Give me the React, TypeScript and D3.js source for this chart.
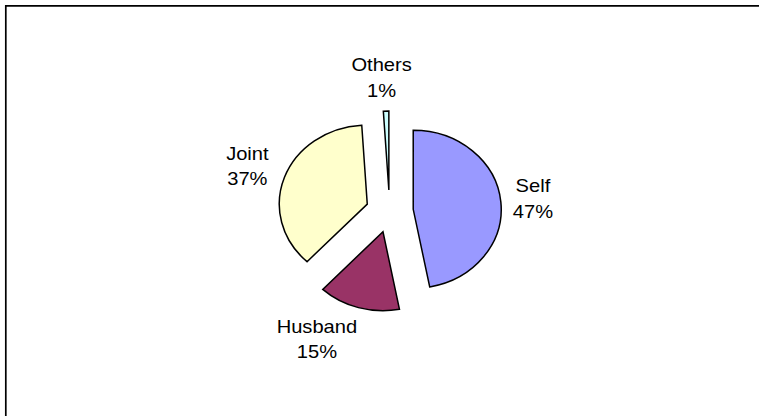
import React, { useLayoutEffect } from "react";
import * as d3 from "d3";

const categories = ["Self", "Husband", "Joint", "Others"];
const values = [47, 15, 37, 1];
const percentLabels = ["47%", "15%", "37%", "1%"];
const colors = ["#9999FF", "#993366", "#FFFFCC", "#CCFFFF"];

const W = 760;
const H = 417;
const CX = 389.6;
const CY = 211.3;
const RY = 79;
const SX = 88 / 79;
const EXPLODE = 21.3;
const LABEL_R = 88;
const FS = 17.5;
const TXS = 1.15;

export default function App() {
  useLayoutEffect(() => {
    document.body.style.margin = "0";
    document.body.style.overflow = "hidden";
    document.documentElement.style.overflow = "hidden";
  }, []);

  const pie = d3
    .pie<number>()
    .sort(null)
    .value((d) => d)
    .startAngle(0)
    .endAngle(2 * Math.PI);
  const arcs = pie(values);
  const arcGen = d3.arc<d3.PieArcDatum<number>>().innerRadius(0).outerRadius(RY);

  return (
    <svg
      width={W}
      height={H}
      style={{ position: "absolute", left: 0, top: 0, background: "#fff", display: "block" }}
    >
      <rect x={0} y={0} width={W} height={H} fill="#fff" />
      <line x1={5.8} y1={5.8} x2={W - 1} y2={5.8} stroke="#000" strokeWidth={1.7} />
      <line x1={5.8} y1={5} x2={5.8} y2={H - 1} stroke="#000" strokeWidth={1.7} />
      {arcs.map((a, i) => {
        const mid = (a.startAngle + a.endAngle) / 2;
        const s = Math.sin(mid);
        const c = Math.cos(mid);
        const tx = CX + EXPLODE * s * SX;
        const ty = CY - EXPLODE * c;
        return (
          <g key={categories[i]} transform={`translate(${tx},${ty}) scale(${SX},1)`}>
            <path
              d={arcGen(a) || ""}
              fill={colors[i]}
              stroke="#000"
              strokeWidth={1.5}
              vectorEffect="non-scaling-stroke"
            />
          </g>
        );
      })}
      {arcs.map((a, i) => {
        const mid = (a.startAngle + a.endAngle) / 2;
        const s = Math.sin(mid);
        const c = Math.cos(mid);
        const tx = CX + EXPLODE * s * SX;
        const ty = CY - EXPLODE * c;
        const px = tx + LABEL_R * s * SX;
        const py = ty - LABEL_R * c;
        const maxLen = Math.max(categories[i].length, percentLabels[i].length);
        const w = maxLen * FS * 0.55 * TXS;
        const h = 48;
        const hs = Math.sign(s) * Math.min(1, Math.abs(s) * 4);
        const bx = px + (w / 2) * hs;
        const by = py - (h / 2) * c;
        return (
          <g key={"l" + categories[i]} fontFamily="'Liberation Sans', Arial, sans-serif" fontSize={FS} fill="#000">
            <text transform={`translate(${bx},${by - 6.6}) scale(${TXS},1)`} textAnchor="middle">
              {categories[i]}
            </text>
            <text transform={`translate(${bx},${by + 19}) scale(${TXS},1)`} textAnchor="middle">
              {percentLabels[i]}
            </text>
          </g>
        );
      })}
    </svg>
  );
}
